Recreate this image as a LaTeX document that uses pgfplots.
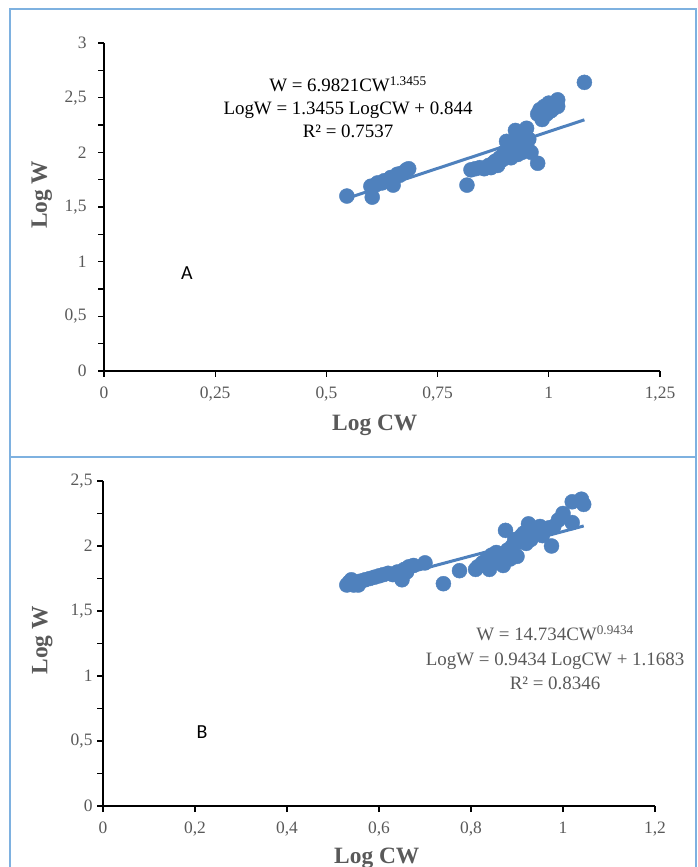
\documentclass[border=0pt]{standalone}
\usepackage{pgfplots}
\pgfplotsset{compat=1.18}
\usepackage{fontspec}
\setmainfont{Liberation Serif}
\newfontfamily\carlito{Carlito}
\definecolor{dotblue}{HTML}{4F81BD}
\definecolor{framblue}{HTML}{7EB1E0}
\definecolor{txtgray}{HTML}{595959}
\pgfplotsset{
  panel/.style={
    scale only axis,
    axis x line=bottom, axis y line=left,
    axis line style={-, black, line width=1.3pt},
    tick align=outside,
    major tick length=6bp, minor tick length=6bp,
    every tick/.style={black, line width=1.1pt},
    tick label style={font=\fontsize{17.5}{17.5}\selectfont, text=txtgray},
    xticklabel style={yshift=-6bp},
    /pgf/number format/use comma,
    /pgf/number format/assume math mode=true,
    label style={font=\fontsize{23.5}{23.5}\selectfont\bfseries, text=txtgray},
    clip=false,
  },
  dots/.style={only marks, mark=*, mark size=7.5bp, color=dotblue, mark options={draw=dotblue, fill=dotblue}},
  trend/.style={no marks, color=dotblue, line width=3bp},
}
\pgfplotstableread{
x y
0.546 1.60
0.603 1.59
0.600 1.69
0.610 1.70
0.615 1.72
0.625 1.72
0.630 1.74
0.640 1.75
0.645 1.77
0.650 1.70
0.655 1.78
0.660 1.80
0.665 1.79
0.670 1.81
0.680 1.84
0.685 1.85
0.816 1.70
0.825 1.84
0.835 1.85
0.845 1.86
0.855 1.85
0.865 1.88
0.870 1.86
0.875 1.90
0.880 1.92
0.885 1.88
0.890 1.95
0.895 1.93
0.900 2.00
0.905 2.10
0.905 1.98
0.910 2.03
0.915 1.95
0.920 2.05
0.925 2.20
0.930 1.98
0.930 2.10
0.935 2.15
0.940 2.00
0.945 2.08
0.950 2.22
0.950 2.05
0.955 2.12
0.960 2.00
0.975 1.90
0.975 2.35
0.980 2.39
0.985 2.30
0.990 2.42
0.995 2.35
1.000 2.45
1.005 2.38
1.010 2.40
1.015 2.44
1.020 2.48
1.020 2.42
1.080 2.64
}\dataA
\pgfplotstableread{
x y
0.530 1.70
0.535 1.72
0.540 1.74
0.545 1.70
0.550 1.72
0.555 1.70
0.560 1.73
0.570 1.74
0.580 1.75
0.590 1.76
0.600 1.77
0.610 1.78
0.620 1.79
0.630 1.78
0.640 1.80
0.650 1.74
0.655 1.82
0.660 1.80
0.665 1.84
0.675 1.85
0.700 1.87
0.740 1.71
0.775 1.81
0.810 1.82
0.815 1.84
0.825 1.87
0.835 1.90
0.840 1.82
0.845 1.93
0.850 1.88
0.855 1.95
0.860 1.90
0.870 1.85
0.875 2.12
0.875 1.93
0.880 1.97
0.885 1.90
0.890 2.00
0.895 2.05
0.900 1.92
0.905 2.03
0.910 2.08
0.915 2.10
0.920 2.02
0.925 2.17
0.930 2.05
0.935 2.12
0.945 2.10
0.950 2.15
0.955 2.08
0.960 2.12
0.970 2.14
0.975 2.00
0.980 2.15
0.990 2.20
1.000 2.25
1.020 2.34
1.040 2.36
1.045 2.32
1.020 2.18
}\dataB
\begin{document}
\begin{tikzpicture}[x=1bp,y=1bp]
\path[use as bounding box] (0,0) rectangle (698,867);
% frame
\draw[framblue, line width=1.5bp] (10,0) -- (10,858) -- (696,858) -- (696,0);
\draw[framblue, line width=1.5bp] (10,410) -- (696,410);
% Panel A
\begin{axis}[panel, at={(104bp,496bp)}, anchor=origin,
  width=556bp, height=328bp,
  xmin=0, xmax=1.25, ymin=0, ymax=3,
  xtick={0,0.25,0.5,0.75,1,1.25},
  ytick={0,0.5,1,1.5,2,2.5,3},
  minor ytick={0.25,0.75,1.25,1.75,2.25,2.75},
  yticklabel style={xshift=-8bp},
  xlabel={Log CW}, ylabel={Log W},
  xlabel style={at={(axis description cs:0.487,-0.165)}, anchor=center},
  ylabel style={at={(axis description cs:-0.112,0.537)}, anchor=center, rotate=0},
]
\addplot[dots] table[x=x,y=y] {\dataA};
\addplot[trend] coordinates {(0.545,1.5773) (1.080,2.2971)};
\end{axis}
% Panel B
\begin{axis}[panel, at={(103bp,61bp)}, anchor=origin,
  width=552bp, height=325bp,
  xmin=0, xmax=1.2, ymin=0, ymax=2.5,
  xtick={0,0.2,0.4,0.6,0.8,1,1.2},
  ytick={0,0.5,1,1.5,2,2.5},
  minor ytick={0.25,0.75,1.25,1.75,2.25},
  yticklabel style={xshift=-1bp},
  xlabel={Log CW}, ylabel={Log W},
  xlabel style={at={(axis description cs:0.496,-0.16)}, anchor=center},
  ylabel style={at={(axis description cs:-0.11,0.51)}, anchor=center, rotate=0},
]
\addplot[dots] table[x=x,y=y] {\dataB};
\addplot[trend] coordinates {(0.530,1.6683) (1.045,2.1542)};
\end{axis}
% annotations
\node[align=center, font=\fontsize{19}{23}\selectfont, text=black] at (348,760)
  {W = 6.9821CW\textsuperscript{1.3455}\\LogW = 1.3455 LogCW + 0.844\\R² = 0.7537};
\node[align=center, font=\fontsize{19}{24.5}\selectfont, text=txtgray] at (555,209)
  {W = 14.734CW\textsuperscript{0.9434}\\LogW = 0.9434 LogCW + 1.1683\\R² = 0.8346};
\node[font=\carlito\fontsize{20}{20}\selectfont] at (187,594) {A};
\node[font=\carlito\fontsize{20}{20}\selectfont] at (202,135) {B};
\end{tikzpicture}
\end{document}
